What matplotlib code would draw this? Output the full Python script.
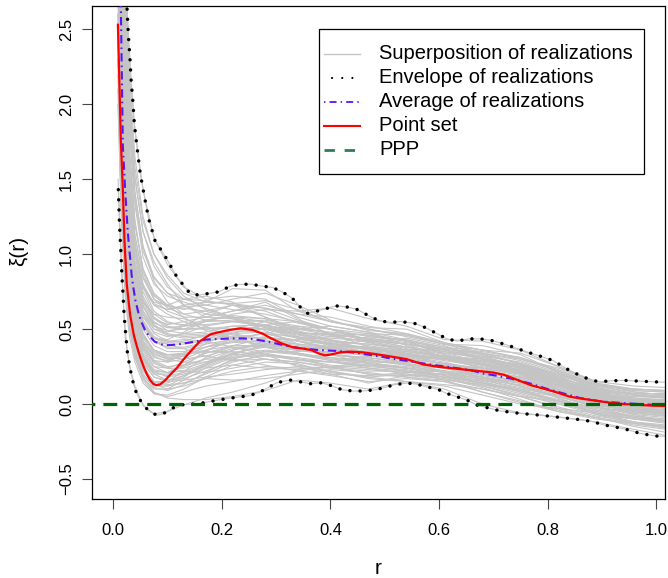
import matplotlib
matplotlib.use("Agg")
import matplotlib.pyplot as plt
from matplotlib.lines import Line2D
from matplotlib.patches import Rectangle

plt.rcParams['font.family'] = ['Liberation Sans', 'DejaVu Sans']
plt.rcParams['lines.scale_dashes'] = False

# ---------------- data ----------------
# common r grid of the simulated realizations
grey_r = [0.009, 0.015, 0.022, 0.03, 0.04, 0.055, 0.075, 0.1, 0.13, 0.17, 0.22, 0.28,
          0.34, 0.4, 0.47, 0.54, 0.61, 0.68, 0.75, 0.82, 0.89, 0.96, 1.02]

grey_01 = [6.0, 4.2, 2.95, 2.25, 1.83, 1.43, 1.11, 0.93, 0.78, 0.70, 0.72, 0.70, 0.58, 0.52, 0.48, 0.43, 0.36, 0.32, 0.25, 0.16, 0.08, 0.05, 0.04]
grey_02 = [5.0, 3.4, 2.3, 1.65, 1.2, 0.9, 0.74, 0.66, 0.63, 0.68, 0.77, 0.76, 0.62, 0.55, 0.50, 0.46, 0.40, 0.36, 0.30, 0.22, 0.12, 0.10, 0.09]
grey_03 = [1.5, 0.95, 0.45, 0.26, 0.12, -0.01, -0.065, -0.05, -0.005, 0.04, 0.08, 0.14, 0.22, 0.25, 0.20, 0.18, 0.15, 0.10, 0.05, 0.02, -0.02, -0.06, -0.08]
grey_04 = [2.2, 1.4, 0.85, 0.55, 0.35, 0.18, 0.08, 0.04, 0.03, 0.03, 0.05, 0.09, 0.16, 0.14, 0.10, 0.15, 0.12, 0.06, 0.0, -0.03, -0.06, -0.10, -0.12]
grey_05 = [4.0, 2.6, 1.7, 1.2, 0.85, 0.62, 0.52, 0.49, 0.50, 0.55, 0.60, 0.63, 0.62, 0.64, 0.57, 0.52, 0.43, 0.42, 0.36, 0.25, 0.15, 0.12, 0.11]
grey_06 = [3.0, 2.0, 1.3, 0.9, 0.62, 0.45, 0.36, 0.33, 0.33, 0.35, 0.34, 0.30, 0.26, 0.22, 0.18, 0.15, 0.10, 0.0, -0.06, -0.085, -0.12, -0.17, -0.21]
grey_07 = [4.5, 3.0, 2.0, 1.4, 1.0, 0.72, 0.58, 0.52, 0.50, 0.50, 0.52, 0.50, 0.44, 0.40, 0.38, 0.34, 0.30, 0.26, 0.22, 0.14, 0.06, 0.02, 0.01]
grey_08 = [3.5, 2.3, 1.5, 1.05, 0.75, 0.55, 0.44, 0.40, 0.40, 0.42, 0.45, 0.44, 0.40, 0.38, 0.35, 0.32, 0.28, 0.22, 0.16, 0.09, 0.02, -0.01, -0.02]
grey_09 = [2.6, 1.7, 1.1, 0.75, 0.5, 0.32, 0.22, 0.18, 0.20, 0.25, 0.32, 0.36, 0.34, 0.30, 0.27, 0.25, 0.22, 0.18, 0.14, 0.08, 0.01, -0.05, -0.07]
grey_10 = [5.5, 3.8, 2.6, 1.9, 1.4, 1.05, 0.85, 0.74, 0.66, 0.60, 0.58, 0.55, 0.48, 0.45, 0.42, 0.40, 0.36, 0.30, 0.24, 0.15, 0.07, 0.04, 0.03]
grey_11 = [3.2, 2.1, 1.35, 0.92, 0.62, 0.42, 0.32, 0.28, 0.30, 0.36, 0.42, 0.45, 0.42, 0.38, 0.33, 0.30, 0.27, 0.24, 0.20, 0.12, 0.04, 0.0, -0.02]
grey_12 = [4.2, 2.8, 1.85, 1.3, 0.92, 0.66, 0.53, 0.47, 0.45, 0.46, 0.47, 0.43, 0.36, 0.34, 0.33, 0.30, 0.25, 0.20, 0.15, 0.08, 0.0, -0.04, -0.05]
grey_13 = [2.0, 1.25, 0.72, 0.45, 0.28, 0.14, 0.07, 0.06, 0.10, 0.18, 0.26, 0.30, 0.28, 0.24, 0.22, 0.22, 0.20, 0.14, 0.08, 0.02, -0.04, -0.08, -0.10]
grey_14 = [3.8, 2.5, 1.65, 1.15, 0.8, 0.58, 0.48, 0.45, 0.47, 0.52, 0.55, 0.53, 0.47, 0.42, 0.40, 0.36, 0.31, 0.28, 0.24, 0.16, 0.09, 0.06, 0.05]
grey_15 = [2.8, 1.85, 1.2, 0.82, 0.56, 0.38, 0.28, 0.24, 0.24, 0.28, 0.34, 0.38, 0.36, 0.33, 0.31, 0.27, 0.22, 0.16, 0.11, 0.05, -0.02, -0.06, -0.08]
grey_16 = [4.8, 3.2, 2.15, 1.5, 1.08, 0.78, 0.62, 0.55, 0.52, 0.53, 0.55, 0.56, 0.52, 0.47, 0.43, 0.38, 0.34, 0.31, 0.26, 0.18, 0.10, 0.06, 0.05]
grey_17 = [3.4, 2.2, 1.45, 1.0, 0.68, 0.47, 0.36, 0.31, 0.30, 0.32, 0.37, 0.40, 0.38, 0.36, 0.34, 0.30, 0.27, 0.23, 0.18, 0.10, 0.03, -0.01, -0.03]
grey_18 = [2.4, 1.55, 0.98, 0.65, 0.42, 0.25, 0.15, 0.12, 0.14, 0.20, 0.28, 0.33, 0.31, 0.28, 0.25, 0.23, 0.18, 0.12, 0.06, 0.0, -0.05, -0.10, -0.13]
grey_19 = [4.4, 2.9, 1.95, 1.36, 0.96, 0.70, 0.57, 0.51, 0.50, 0.51, 0.50, 0.47, 0.42, 0.40, 0.37, 0.33, 0.30, 0.27, 0.21, 0.13, 0.06, 0.03, 0.02]
grey_20 = [3.0, 1.95, 1.28, 0.88, 0.6, 0.42, 0.33, 0.30, 0.32, 0.38, 0.44, 0.47, 0.45, 0.40, 0.36, 0.33, 0.30, 0.26, 0.21, 0.14, 0.06, 0.02, 0.0]
grey_21 = [3.6, 2.4, 1.58, 1.1, 0.76, 0.54, 0.42, 0.37, 0.37, 0.40, 0.43, 0.41, 0.36, 0.33, 0.31, 0.28, 0.26, 0.24, 0.19, 0.11, 0.03, -0.02, -0.04]
grey_22 = [5.2, 3.5, 2.4, 1.7, 1.22, 0.88, 0.70, 0.62, 0.58, 0.58, 0.62, 0.66, 0.60, 0.55, 0.50, 0.45, 0.40, 0.36, 0.31, 0.22, 0.13, 0.10, 0.09]
grey_23 = [2.9, 1.9, 1.22, 0.82, 0.55, 0.36, 0.25, 0.21, 0.22, 0.27, 0.33, 0.34, 0.30, 0.26, 0.24, 0.22, 0.18, 0.14, 0.09, 0.02, -0.06, -0.12, -0.15]
grey_24 = [3.9, 2.6, 1.72, 1.2, 0.84, 0.60, 0.47, 0.42, 0.41, 0.43, 0.47, 0.48, 0.44, 0.44, 0.42, 0.37, 0.32, 0.29, 0.25, 0.17, 0.08, 0.03, 0.01]
grey_25 = [2.3, 1.5, 0.92, 0.6, 0.38, 0.22, 0.13, 0.10, 0.12, 0.17, 0.22, 0.25, 0.24, 0.22, 0.17, 0.15, 0.13, 0.10, 0.05, -0.02, -0.08, -0.12, -0.14]
grey_26 = [4.6, 3.1, 2.05, 1.45, 1.03, 0.75, 0.60, 0.54, 0.53, 0.56, 0.59, 0.57, 0.50, 0.48, 0.46, 0.42, 0.37, 0.33, 0.27, 0.18, 0.09, 0.06, 0.05]
grey_27 = [3.3, 2.15, 1.4, 0.96, 0.66, 0.46, 0.36, 0.32, 0.33, 0.36, 0.39, 0.38, 0.33, 0.31, 0.29, 0.27, 0.24, 0.20, 0.15, 0.07, 0.0, -0.04, -0.06]
grey_28 = [2.7, 1.75, 1.12, 0.76, 0.5, 0.31, 0.20, 0.16, 0.17, 0.22, 0.29, 0.32, 0.30, 0.28, 0.26, 0.24, 0.21, 0.17, 0.12, 0.05, -0.02, -0.07, -0.09]
grey_29 = [4.1, 2.75, 1.82, 1.27, 0.9, 0.65, 0.52, 0.46, 0.44, 0.45, 0.48, 0.50, 0.47, 0.43, 0.39, 0.35, 0.31, 0.27, 0.23, 0.16, 0.07, 0.02, 0.0]
grey_30 = [3.1, 2.05, 1.33, 0.9, 0.6, 0.40, 0.29, 0.25, 0.26, 0.30, 0.36, 0.40, 0.38, 0.34, 0.29, 0.26, 0.24, 0.21, 0.17, 0.09, 0.02, -0.03, -0.05]
grey_31 = [3.7, 2.45, 1.62, 1.12, 0.78, 0.56, 0.45, 0.41, 0.42, 0.46, 0.50, 0.50, 0.46, 0.42, 0.37, 0.33, 0.29, 0.25, 0.20, 0.12, 0.05, 0.01, -0.01]
grey_32 = [2.5, 1.6, 1.0, 0.66, 0.43, 0.27, 0.18, 0.16, 0.19, 0.26, 0.34, 0.39, 0.37, 0.33, 0.30, 0.26, 0.21, 0.15, 0.09, 0.03, -0.03, -0.08, -0.11]
grey_33 = [4.3, 2.85, 1.9, 1.32, 0.94, 0.68, 0.55, 0.49, 0.47, 0.48, 0.52, 0.53, 0.48, 0.46, 0.44, 0.41, 0.36, 0.31, 0.24, 0.15, 0.06, 0.02, 0.01]
grey_34 = [3.5, 2.3, 1.5, 1.03, 0.71, 0.50, 0.39, 0.35, 0.35, 0.38, 0.41, 0.42, 0.39, 0.37, 0.35, 0.31, 0.27, 0.22, 0.17, 0.10, 0.03, -0.01, -0.02]
grey_35 = [5.8, 3.9, 2.7, 1.95, 1.42, 1.05, 0.82, 0.68, 0.60, 0.56, 0.55, 0.52, 0.45, 0.41, 0.37, 0.34, 0.30, 0.26, 0.20, 0.12, 0.05, 0.02, 0.01]
grey_36 = [2.1, 1.3, 0.8, 0.52, 0.33, 0.19, 0.11, 0.09, 0.13, 0.21, 0.30, 0.35, 0.33, 0.29, 0.26, 0.24, 0.22, 0.18, 0.12, 0.05, -0.02, -0.06, -0.08]
grey_37 = [4.9, 3.3, 2.2, 1.55, 1.12, 0.85, 0.72, 0.66, 0.58, 0.49, 0.44, 0.47, 0.52, 0.50, 0.41, 0.36, 0.37, 0.33, 0.21, 0.10, 0.02, -0.03, -0.06]
grey_38 = [5.6, 3.9, 2.75, 2.0, 1.5, 1.15, 0.95, 0.80, 0.66, 0.58, 0.62, 0.68, 0.57, 0.46, 0.41, 0.44, 0.39, 0.30, 0.26, 0.20, 0.10, 0.04, 0.02]
grey_39 = [3.4, 2.2, 1.42, 0.98, 0.70, 0.52, 0.44, 0.43, 0.48, 0.56, 0.58, 0.49, 0.40, 0.38, 0.43, 0.40, 0.31, 0.24, 0.22, 0.18, 0.09, 0.01, -0.03]
grey_40 = [2.5, 1.62, 1.05, 0.70, 0.46, 0.29, 0.20, 0.20, 0.26, 0.34, 0.38, 0.33, 0.25, 0.24, 0.30, 0.33, 0.26, 0.16, 0.10, 0.06, 0.01, -0.07, -0.12]
grey_41 = [5.3, 3.6, 2.5, 1.8, 1.33, 0.98, 0.80, 0.72, 0.68, 0.64, 0.58, 0.52, 0.50, 0.52, 0.48, 0.39, 0.31, 0.29, 0.27, 0.19, 0.08, 0.03, 0.03]
grey_42 = [3.9, 2.55, 1.7, 1.2, 0.88, 0.68, 0.60, 0.58, 0.57, 0.52, 0.44, 0.38, 0.36, 0.40, 0.45, 0.42, 0.34, 0.28, 0.23, 0.15, 0.06, 0.05, 0.06]
grey_43 = [2.9, 1.88, 1.2, 0.8, 0.52, 0.33, 0.23, 0.21, 0.25, 0.30, 0.30, 0.26, 0.22, 0.20, 0.19, 0.21, 0.22, 0.20, 0.14, 0.04, -0.06, -0.12, -0.16]
grey_44 = [4.7, 3.15, 2.1, 1.48, 1.07, 0.80, 0.67, 0.63, 0.65, 0.66, 0.63, 0.60, 0.55, 0.47, 0.38, 0.36, 0.37, 0.34, 0.27, 0.16, 0.08, 0.07, 0.07]
grey_45 = [3.6, 2.35, 1.52, 1.03, 0.70, 0.47, 0.35, 0.31, 0.33, 0.40, 0.50, 0.55, 0.49, 0.43, 0.36, 0.31, 0.30, 0.29, 0.24, 0.14, 0.04, -0.02, -0.04]
grey_46 = [2.2, 1.42, 0.88, 0.57, 0.36, 0.20, 0.12, 0.12, 0.18, 0.27, 0.36, 0.42, 0.40, 0.33, 0.27, 0.24, 0.19, 0.13, 0.09, 0.05, -0.01, -0.04, -0.05]
grey_47 = [4.4, 2.95, 1.98, 1.40, 1.02, 0.78, 0.66, 0.60, 0.55, 0.50, 0.46, 0.44, 0.43, 0.45, 0.47, 0.46, 0.40, 0.33, 0.27, 0.20, 0.13, 0.09, 0.08]
grey_48 = [3.2, 2.08, 1.35, 0.92, 0.63, 0.44, 0.34, 0.30, 0.28, 0.28, 0.31, 0.35, 0.34, 0.29, 0.24, 0.20, 0.18, 0.16, 0.13, 0.06, -0.02, -0.09, -0.12]
grey_49 = [5.1, 3.45, 2.35, 1.68, 1.22, 0.90, 0.73, 0.64, 0.60, 0.62, 0.66, 0.62, 0.54, 0.50, 0.47, 0.42, 0.33, 0.26, 0.23, 0.17, 0.11, 0.06, 0.04]
grey_50 = [2.7, 1.75, 1.12, 0.75, 0.49, 0.31, 0.22, 0.21, 0.26, 0.35, 0.44, 0.47, 0.42, 0.36, 0.32, 0.32, 0.30, 0.24, 0.16, 0.07, -0.01, -0.05, -0.06]
grey_51 = [4.0, 2.65, 1.75, 1.22, 0.86, 0.62, 0.50, 0.46, 0.46, 0.47, 0.44, 0.38, 0.33, 0.30, 0.28, 0.28, 0.26, 0.22, 0.18, 0.12, 0.03, -0.04, -0.07]
grey_52 = [3.0, 1.96, 1.27, 0.86, 0.58, 0.39, 0.29, 0.28, 0.34, 0.43, 0.50, 0.52, 0.47, 0.39, 0.34, 0.33, 0.31, 0.26, 0.20, 0.10, 0.01, -0.03, -0.04]
grey_53 = [6.2, 4.3, 3.0, 2.2, 1.65, 1.25, 1.0, 0.84, 0.72, 0.63, 0.58, 0.57, 0.55, 0.50, 0.43, 0.38, 0.35, 0.32, 0.28, 0.20, 0.11, 0.06, 0.04]
grey_54 = [2.4, 1.55, 0.98, 0.64, 0.41, 0.24, 0.15, 0.14, 0.19, 0.24, 0.26, 0.24, 0.23, 0.25, 0.26, 0.22, 0.16, 0.08, 0.02, -0.04, -0.09, -0.14, -0.17]
grey_55 = [3.8, 2.5, 1.65, 1.15, 0.82, 0.60, 0.50, 0.48, 0.52, 0.60, 0.66, 0.64, 0.56, 0.50, 0.45, 0.43, 0.38, 0.30, 0.22, 0.12, 0.04, 0.01, 0.0]
grey_56 = [3.3, 2.15, 1.4, 0.96, 0.66, 0.46, 0.36, 0.33, 0.34, 0.35, 0.35, 0.33, 0.29, 0.28, 0.32, 0.35, 0.32, 0.27, 0.22, 0.15, 0.07, 0.02, 0.0]
grey_57 = [4.5, 3.0, 2.0, 1.42, 1.03, 0.78, 0.68, 0.66, 0.70, 0.72, 0.68, 0.58, 0.48, 0.42, 0.40, 0.38, 0.33, 0.27, 0.21, 0.13, 0.05, 0.0, -0.02]
grey_58 = [2.6, 1.68, 1.08, 0.72, 0.47, 0.30, 0.21, 0.19, 0.21, 0.26, 0.33, 0.40, 0.43, 0.41, 0.34, 0.27, 0.22, 0.18, 0.14, 0.09, 0.03, -0.02, -0.04]
grey_59 = [3.5, 2.28, 1.48, 1.02, 0.72, 0.53, 0.44, 0.42, 0.43, 0.42, 0.38, 0.35, 0.35, 0.38, 0.38, 0.33, 0.26, 0.21, 0.18, 0.13, 0.05, -0.01, -0.03]
grey_60 = [4.2, 2.8, 1.86, 1.3, 0.93, 0.69, 0.57, 0.53, 0.55, 0.58, 0.57, 0.51, 0.44, 0.39, 0.37, 0.35, 0.32, 0.29, 0.25, 0.19, 0.12, 0.08, 0.06]
grey_61 = [2.0, 1.28, 0.78, 0.50, 0.31, 0.17, 0.10, 0.10, 0.16, 0.24, 0.31, 0.33, 0.30, 0.25, 0.20, 0.19, 0.17, 0.11, 0.03, -0.05, -0.10, -0.13, -0.15]
grey_62 = [3.7, 2.42, 1.58, 1.08, 0.75, 0.53, 0.42, 0.38, 0.38, 0.41, 0.47, 0.53, 0.55, 0.50, 0.42, 0.36, 0.32, 0.30, 0.26, 0.17, 0.07, 0.03, 0.02]
grey_63 = [5.4, 3.7, 2.55, 1.85, 1.36, 1.02, 0.84, 0.74, 0.70, 0.69, 0.66, 0.58, 0.50, 0.46, 0.44, 0.40, 0.35, 0.30, 0.24, 0.15, 0.06, 0.03, 0.02]
grey_64 = [2.8, 1.82, 1.17, 0.78, 0.52, 0.34, 0.25, 0.24, 0.28, 0.34, 0.39, 0.39, 0.34, 0.31, 0.28, 0.24, 0.19, 0.14, 0.10, 0.02, -0.07, -0.13, -0.16]
grey_65 = [4.1, 2.72, 1.8, 1.25, 0.89, 0.65, 0.54, 0.51, 0.52, 0.55, 0.56, 0.55, 0.51, 0.47, 0.43, 0.40, 0.37, 0.34, 0.29, 0.21, 0.12, 0.07, 0.05]
grey_66 = [3.1, 2.0, 1.3, 0.88, 0.60, 0.41, 0.31, 0.29, 0.32, 0.38, 0.42, 0.40, 0.36, 0.35, 0.34, 0.30, 0.24, 0.19, 0.15, 0.08, 0.0, -0.05, -0.06]
grey_67 = [2.3, 1.48, 0.93, 0.61, 0.39, 0.23, 0.15, 0.15, 0.22, 0.31, 0.39, 0.44, 0.42, 0.37, 0.33, 0.29, 0.24, 0.18, 0.12, 0.04, -0.04, -0.09, -0.11]
grey_68 = [4.8, 3.25, 2.2, 1.56, 1.13, 0.84, 0.70, 0.65, 0.64, 0.62, 0.57, 0.51, 0.47, 0.47, 0.46, 0.42, 0.38, 0.35, 0.31, 0.23, 0.13, 0.09, 0.08]
grey_69 = [2.1, 1.35, 0.82, 0.52, 0.32, 0.16, 0.07, 0.05, 0.08, 0.12, 0.15, 0.19, 0.22, 0.19, 0.15, 0.17, 0.15, 0.08, 0.01, -0.05, -0.09, -0.13, -0.16]
grey_70 = [2.6, 1.7, 1.08, 0.71, 0.46, 0.28, 0.18, 0.15, 0.16, 0.18, 0.20, 0.23, 0.25, 0.20, 0.14, 0.19, 0.20, 0.15, 0.08, 0.01, -0.05, -0.09, -0.11]
grey_71 = [5.7, 3.95, 2.8, 2.05, 1.52, 1.15, 0.92, 0.78, 0.70, 0.66, 0.70, 0.74, 0.66, 0.56, 0.49, 0.47, 0.41, 0.34, 0.30, 0.24, 0.14, 0.08, 0.06]
grey_72 = [5.9, 4.1, 2.85, 2.1, 1.58, 1.22, 1.0, 0.86, 0.74, 0.68, 0.67, 0.64, 0.60, 0.58, 0.52, 0.47, 0.40, 0.39, 0.33, 0.21, 0.10, 0.07, 0.07]
grey_73 = [2.3, 1.5, 0.95, 0.62, 0.40, 0.24, 0.15, 0.13, 0.14, 0.17, 0.16, 0.17, 0.20, 0.23, 0.21, 0.18, 0.16, 0.13, 0.07, 0.0, -0.07, -0.10, -0.12]
grey_74 = [3.0, 1.95, 1.25, 0.84, 0.56, 0.37, 0.27, 0.24, 0.22, 0.21, 0.24, 0.28, 0.27, 0.21, 0.18, 0.20, 0.17, 0.12, 0.05, -0.03, -0.09, -0.15, -0.19]
grey_75 = [4.6, 3.1, 2.08, 1.47, 1.05, 0.78, 0.66, 0.63, 0.66, 0.68, 0.67, 0.69, 0.63, 0.55, 0.51, 0.50, 0.41, 0.36, 0.34, 0.25, 0.14, 0.10, 0.09]
grey_76 = [3.6, 2.35, 1.54, 1.06, 0.74, 0.52, 0.42, 0.40, 0.37, 0.32, 0.29, 0.30, 0.28, 0.25, 0.23, 0.21, 0.20, 0.17, 0.14, 0.08, 0.0, -0.05, -0.07]

realizations = [grey_01, grey_02, grey_03, grey_04, grey_05, grey_06, grey_07, grey_08, grey_09,
                grey_10, grey_11, grey_12, grey_13, grey_14, grey_15, grey_16, grey_17, grey_18,
                grey_19, grey_20, grey_21, grey_22, grey_23, grey_24, grey_25, grey_26, grey_27,
                grey_28, grey_29, grey_30, grey_31, grey_32, grey_33, grey_34, grey_35, grey_36,
                grey_37, grey_38, grey_39, grey_40, grey_41, grey_42, grey_43, grey_44, grey_45,
                grey_46, grey_47, grey_48, grey_49, grey_50, grey_51, grey_52, grey_53, grey_54,
                grey_55, grey_56, grey_57, grey_58, grey_59, grey_60, grey_61, grey_62, grey_63,
                grey_64, grey_65, grey_66, grey_67, grey_68, grey_69, grey_70, grey_71, grey_72,
                grey_73, grey_74, grey_75, grey_76]

# upper envelope of realizations
upper_r = [0.02, 0.026, 0.028, 0.031, 0.033, 0.036, 0.039, 0.043, 0.0497, 0.0577, 0.065, 0.077, 0.095,
           0.117, 0.142, 0.158, 0.176, 0.195, 0.213, 0.231, 0.253, 0.274, 0.293, 0.311, 0.33, 0.345,
           0.357, 0.375, 0.39, 0.41, 0.43, 0.45, 0.47, 0.49, 0.51, 0.53, 0.555, 0.575, 0.596, 0.615,
           0.633, 0.655, 0.675, 0.694, 0.715, 0.731, 0.76, 0.786, 0.81, 0.84, 0.86, 0.88, 0.896,
           0.915, 0.94, 0.97, 1.0, 1.02]
upper_y = [3.1, 2.60, 2.46, 2.30, 2.16, 2.03, 1.87, 1.74, 1.54, 1.38, 1.24, 1.09, 0.99,
           0.85, 0.735, 0.727, 0.738, 0.749, 0.782, 0.798, 0.80, 0.787, 0.778, 0.749, 0.705, 0.645,
           0.605, 0.62, 0.635, 0.655, 0.648, 0.63, 0.59, 0.555, 0.545, 0.55, 0.538, 0.51, 0.47, 0.435,
           0.42, 0.435, 0.435, 0.427, 0.405, 0.387, 0.35, 0.32, 0.29, 0.225, 0.19, 0.16, 0.149,
           0.155, 0.158, 0.153, 0.148, 0.145]

# lower envelope of realizations
lower_r = [0.0095, 0.0116, 0.014, 0.016, 0.018, 0.020, 0.023, 0.026, 0.030, 0.033, 0.037, 0.042, 0.049,
           0.056, 0.063, 0.068, 0.075, 0.081, 0.088, 0.099, 0.111, 0.121, 0.135, 0.151, 0.165, 0.176,
           0.195, 0.213, 0.234, 0.25, 0.27, 0.283, 0.3, 0.31, 0.326, 0.344, 0.363, 0.384, 0.404, 0.421,
           0.442, 0.461, 0.482, 0.50, 0.519, 0.541, 0.559, 0.577, 0.597, 0.614, 0.633, 0.651, 0.67,
           0.69, 0.712, 0.749, 0.786, 0.823, 0.85, 0.866, 0.884, 0.902, 0.927, 0.945, 0.97, 0.985,
           1.0, 1.02]
lower_y = [1.43, 1.20, 1.03, 0.86, 0.74, 0.60, 0.47, 0.35, 0.26, 0.205, 0.14, 0.082, 0.03,
           -0.007, -0.035, -0.051, -0.065, -0.073, -0.07, -0.051, -0.024, -0.007, -0.002, 0.0, 0.008, 0.016,
           0.028, 0.038, 0.049, 0.055, 0.08, 0.105, 0.14, 0.15, 0.16, 0.149, 0.136, 0.142, 0.12, 0.096,
           0.087, 0.088, 0.095, 0.111, 0.13, 0.14, 0.133, 0.115, 0.10, 0.071, 0.049, 0.027, -0.007,
           -0.025, -0.045, -0.062, -0.074, -0.089, -0.10, -0.107, -0.118, -0.138, -0.155, -0.169, -0.195, -0.205,
           -0.213, -0.215]

# average of realizations
avg_r = [0.013, 0.0142, 0.0178, 0.022, 0.027, 0.031, 0.034, 0.037, 0.041, 0.047, 0.053, 0.059, 0.065,
         0.077, 0.09, 0.099, 0.11, 0.123, 0.148, 0.17, 0.2, 0.22, 0.24, 0.26, 0.28, 0.305, 0.33, 0.35,
         0.38, 0.41, 0.44, 0.46, 0.49, 0.51, 0.55, 0.59, 0.614, 0.64, 0.663, 0.68, 0.705, 0.731, 0.767,
         0.80, 0.829, 0.86, 0.90, 0.95, 0.99, 1.02]
avg_y = [2.75, 2.63, 1.72, 1.43, 1.14, 0.98, 0.86, 0.78, 0.69, 0.60, 0.54, 0.49, 0.46,
         0.415, 0.398, 0.393, 0.395, 0.40, 0.415, 0.43, 0.435, 0.438, 0.438, 0.432, 0.42, 0.40, 0.38, 0.37,
         0.36, 0.355, 0.345, 0.335, 0.318, 0.305, 0.283, 0.26, 0.249, 0.236, 0.222, 0.205, 0.19, 0.171, 0.138,
         0.10, 0.071, 0.04, 0.017, 0.004, -0.004, -0.007]

# observed point set
obs_r = [0.0087, 0.0142, 0.0178, 0.0208, 0.025, 0.031, 0.038, 0.044, 0.050, 0.056, 0.062, 0.068, 0.074,
         0.079, 0.086, 0.096, 0.106, 0.117, 0.13, 0.142, 0.16, 0.179, 0.195, 0.215, 0.235, 0.256, 0.275,
         0.29, 0.31, 0.33, 0.35, 0.365, 0.38, 0.39, 0.40, 0.418, 0.436, 0.46, 0.48, 0.51, 0.54, 0.57,
         0.6, 0.63, 0.655, 0.68, 0.70, 0.72, 0.745, 0.77, 0.79, 0.815, 0.84, 0.865, 0.89, 0.915, 0.94,
         0.96, 0.99, 1.02]
obs_y = [2.53, 1.75, 1.43, 1.09, 0.80, 0.60, 0.46, 0.38, 0.31, 0.25, 0.20, 0.16, 0.135,
         0.127, 0.13, 0.16, 0.20, 0.24, 0.30, 0.35, 0.42, 0.465, 0.48, 0.495, 0.505, 0.495, 0.47,
         0.44, 0.405, 0.38, 0.37, 0.36, 0.335, 0.325, 0.33, 0.345, 0.35, 0.345, 0.335, 0.318, 0.30, 0.265,
         0.248, 0.237, 0.227, 0.218, 0.21, 0.195, 0.16, 0.125, 0.105, 0.08, 0.05, 0.035, 0.022, 0.009, 0.0,
         -0.003, -0.01, -0.013]

ppp_r = [-0.1, 1.1]
ppp_y = [0.0, 0.0]

legend_labels = ["Superposition of realizations", "Envelope of realizations",
                 "Average of realizations", "Point set", "PPP"]

x_ticks = [0.0, 0.2, 0.4, 0.6, 0.8, 1.0]
y_ticks = [-0.5, 0.0, 0.5, 1.0, 1.5, 2.0, 2.5]

# ---------------- styles ----------------
GREY = '#c4c4c4'
BLUE = '#5a14f5'
RED = '#ff0000'
GREEN = '#006400'
dot_style = dict(color='black', lw=2.5, linestyle=(0, (0.01, 7.3)), dash_capstyle='round')
blue_style = dict(color=BLUE, lw=1.5, linestyle=(0, (6.0, 2.9, 1.2, 2.9)), dash_capstyle='butt')
green_style = dict(color=GREEN, lw=2.3, linestyle=(0, (10.0, 5.8)), dash_capstyle='butt')

fig = plt.figure(figsize=(6.68, 5.78), dpi=100)
ax = fig.add_axes([92 / 668, 1 - 499 / 578, 573 / 668, 493 / 578])

for ys in realizations:
    ax.plot(grey_r, ys, color=GREY, lw=0.8, zorder=1)
ax.plot(upper_r, upper_y, color=GREY, lw=0.8, zorder=1)
ax.plot(lower_r, lower_y, color=GREY, lw=0.8, zorder=1)
ax.plot(upper_r, upper_y, zorder=2, **dot_style)
ax.plot(lower_r, lower_y, zorder=2, **dot_style)
ax.plot(avg_r, avg_y, zorder=3, **blue_style)
ax.plot(obs_r, obs_y, color=RED, lw=1.6, zorder=4)
ax.plot(ppp_r, ppp_y, zorder=5, **green_style)

ax.set_xlim(-0.039, 1.016)
ax.set_ylim(-0.633, 2.655)
ax.set_xticks(x_ticks)
ax.set_xticklabels([f"{v:.1f}" for v in x_ticks])
ax.set_yticks(y_ticks)
ax.set_yticklabels([f"{v:.1f}".replace('-', '\u2212') for v in y_ticks], rotation=90, va='center')
ax.tick_params(axis='both', length=7.5, width=0.8, color='#444444', labelsize=12)
ax.tick_params(axis='x', pad=9.5)
ax.tick_params(axis='y', pad=5.5)
for s in ax.spines.values():
    s.set_linewidth(0.9)
    s.set_color('black')

ax.set_xlabel('r', fontsize=15)
ax.xaxis.set_label_coords(0.5, -0.152)
ax.xaxis.label.set_va('baseline')
ax.set_ylabel('\u03be(r)', fontsize=15)
ax.yaxis.set_label_coords(-0.128, 0.503)
ax.yaxis.label.set_va('center')

# ---------------- legend (drawn in axes fraction) ----------------
def fx(px):
    return (px - 92) / 573

def fy(py):
    return (499 - py) / 493

ax.add_patch(Rectangle((fx(319), fy(174.3)), fx(644) - fx(319), fy(29.3) - fy(174.3),
                       transform=ax.transAxes, facecolor='white', edgecolor='black',
                       lw=0.9, zorder=10))
row_y = [53.5, 77.5, 101.5, 125.5, 149.5]
styles = [dict(color=GREY, lw=1.0),
          dict(color='black', lw=1.6, linestyle=(1.5, (0.01, 7.3)), dash_capstyle='round'),
          dict(color=BLUE, lw=1.3, linestyle=(0, (1.0, 3.0, 5.0, 3.0)), dash_capstyle='butt'),
          dict(color=RED, lw=1.5),
          dict(color='#2f7d55', lw=2.0, linestyle=(0, (7.5, 7.0)), dash_capstyle='butt')]
for yy, lab, st in zip(row_y, legend_labels, styles):
    ax.add_line(Line2D([fx(324), fx(360)], [fy(yy), fy(yy)], transform=ax.transAxes,
                       zorder=11, **st))
    ax.text(fx(379), fy(yy), lab, transform=ax.transAxes, fontsize=14.5, va='center',
            ha='left', zorder=11)

fig.savefig('out.png', dpi=100)
